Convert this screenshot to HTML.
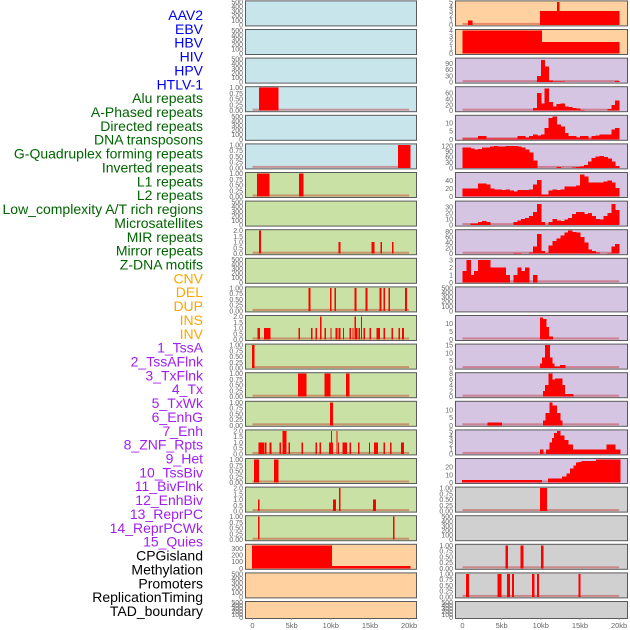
<!DOCTYPE html>
<html><head><meta charset="utf-8">
<style>
body{margin:0;background:#fff;}
svg{display:block;font-family:"Liberation Sans",sans-serif;}
</style></head>
<body>
<svg id="chart" width="630" height="630" viewBox="0 0 630 630" xmlns="http://www.w3.org/2000/svg"></svg>
<script>
// ---------- labels ----------
const trackLabels = ["AAV2","EBV","HBV","HIV","HPV","HTLV-1","Alu repeats","A-Phased repeats","Directed repeats","DNA transposons","G-Quadruplex forming repeats","Inverted repeats","L1 repeats","L2 repeats","Low_complexity A/T rich regions","Microsatellites","MIR repeats","Mirror repeats","Z-DNA motifs","CNV","DEL","DUP","INS","INV","1_TssA","2_TssAFlnk","3_TxFlnk","4_Tx","5_TxWk","6_EnhG","7_Enh","8_ZNF_Rpts","9_Het","10_TssBiv","11_BivFlnk","12_EnhBiv","13_ReprPC","14_ReprPCWk","15_Quies","CPGisland","Methylation","Promoters","ReplicationTiming","TAD_boundary"];
const labelColors = ["#0000ee","#0000ee","#0000ee","#0000ee","#0000ee","#0000ee","#006400","#006400","#006400","#006400","#006400","#006400","#006400","#006400","#006400","#006400","#006400","#006400","#006400","#ffa500","#ffa500","#ffa500","#ffa500","#ffa500","#a020f0","#a020f0","#a020f0","#a020f0","#a020f0","#a020f0","#a020f0","#a020f0","#a020f0","#a020f0","#a020f0","#a020f0","#a020f0","#a020f0","#a020f0","#000","#000","#000","#000","#000"];
const xTickKb = [0,5,10,15,20];
const xTickLabels = ["0","5kb","10kb","15kb","20kb"];
// ---------- tick label sets ----------
const tEmpty = ["0","100","200","300","400","500"];
const t01 = ["0.00","0.25","0.50","0.75","1.00"];
const t02 = ["0.0","0.5","1.0","1.5","2.0"];
// ---------- left column data: [startKb, endKb, value] ----------
const leftAlu = [[0.85,3.25,1]];
const leftGQuad = [[18.6,20.1,1]];
const leftL1 = [[0.57,2.1,1],[5.94,6.45,1]];
const leftMIR = [[0.85,1.0,2],[11.0,11.15,1],[15.2,15.5,1],[16.35,16.5,1],[17.8,17.95,1]];
const leftDEL = [[7.15,7.35,1],[9.9,10.05,1],[10.45,10.6,1],[13.0,13.2,1],[14.4,14.6,1],[16.2,16.4,1],[16.7,16.85,1],[17.35,17.5,1],[19.5,19.65,1]];
const leftINS = [[0.65,0.9,1],[1.5,1.7,1],[1.8,2.0,1],[2.05,2.25,1],[5.88,6.0,1],[7.5,7.62,1],[8.05,8.15,1],[8.65,8.75,2],[9.2,9.32,1],[9.95,10.05,1],[10.6,10.72,1],[10.85,10.95,1],[11.05,11.15,1],[11.55,11.65,1],[12.4,12.5,1],[12.75,12.85,1],[13.05,13.15,2],[13.25,13.35,1],[13.55,13.65,1],[13.85,13.95,2],[14.15,14.3,1],[14.95,15.05,1],[15.85,16.25,1],[16.75,16.85,1],[17.75,17.85,1],[18.65,18.75,1],[19.1,19.3,1]];
const leftTssA = [[-0.05,0.2,1]];
const leftTxFlnk = [[5.8,6.83,1],[9.17,9.9,1],[11.95,12.3,1]];
const leftTxWk = [[9.9,10.24,1]];
const leftEnh = [[0.74,1.4,1],[1.55,1.7,1],[2.2,2.35,1],[3.45,3.6,1],[3.8,4.3,2],[4.6,4.75,1],[6.25,6.4,1],[8.05,8.15,1],[8.55,8.7,1],[9.8,10.0,1],[10.0,10.12,2],[10.1,10.2,1],[10.7,10.82,2],[10.9,11.0,1],[11.5,12.0,1],[12.4,12.5,1],[13.45,13.6,1],[14.85,14.95,1],[15.5,15.95,1],[16.75,16.88,1],[17.55,17.7,1],[18.95,19.3,1]];
const leftHet = [[0.2,0.74,1],[2.75,3.26,1]];
const leftBivFlnk = [[0.7,0.85,1],[10.3,10.6,1],[11.05,11.2,2],[15.4,15.7,1]];
const leftReprPC = [[0.7,0.85,1],[17.95,18.1,1]];
const leftCPG = [[-0.06,10.1,350],[10.1,20.1,35]];
// ---------- right column data ----------
const rightAAV2 = [[0.7,1.2,1],[9.9,20,3],[12.1,12.3,5]];
const rightHBV = [[0,10.1,4],[10.1,20,2]];
const rightHPVbins = [0,0,0,0,0,0,0,0,0,0,0,0,0,0,0,0,0,0,0,30,105,75,8,3,3,3,0,0,0,0,0,0,0,0,0,0,0,0,0,5];
const rightAluBins = [0,0,0,0,0,0,0,0,0,0,0,0,0,0,0,0,0,0,10,60,25,75,30,15,22,25,15,12,10,8,3,0,0,0,0,0,0,5,20,35];
const rightDirectedBins = [0.5,0.5,0.5,0.5,2,2,0.5,0.5,0.5,0.5,0.5,0.5,0.5,0.5,2,2,1,2,3,2.5,3,7,13,14,9,8,4,2,2,1,2,2,0.5,2,2.5,3,3,3,6,7];
const rightGQuadBins = [110,112,105,100,102,110,112,115,118,115,115,118,120,118,115,110,100,85,40,0,0,0,0,0,5,0,0,0,3,5,8,15,35,55,62,65,60,50,35,10];
const rightL1Bins = [20,20,20,20,33,33,30,20,18,18,16,18,15,13,16,16,17,18,30,42,5,5,15,18,17,18,25,25,25,28,55,50,35,35,35,35,38,40,35,22];
const rightLowCBins = [0.5,0.5,3,3,5,7,5,0.5,0.5,0.5,0.5,0.5,0.5,5,8,10,12,15,22,35,5,0.5,5,10,8,7,9,12,18,22,22,18,20,15,10,9,15,20,35,25];
const rightMIRBins = [0.5,0.5,0.5,0.5,0.5,0.5,0.5,0.5,0.5,0.5,0.5,0.5,0.5,2,2,0,0,5,25,70,10,3,30,45,55,65,75,82,78,75,60,40,15,10,5,1,1,3,25,35];
const rightZDNABins = [1.5,3,1,1.5,3,3,3,2,2,2,2,1,0,1,2,1.5,2,0,1,0,0,0,0,0,0,0,0,0,0,0,0,0,0,0,0,0,0,0,0,0];
const rightINS = [[9.9,10.24,14],[10.24,10.66,13],[10.66,11.0,8],[11.0,11.5,2]];
const rightTssA = [[9.9,10.16,3],[10.16,10.54,7],[10.54,11.1,15],[11.1,11.4,7],[11.4,11.7,3],[11.7,12.45,1],[12.45,13.1,2]];
const rightTxFlnk = [[10.3,10.54,2],[10.54,10.97,4],[10.97,11.4,8],[11.4,11.8,6],[11.8,12.7,6.4],[12.7,13.0,4],[13.0,14.1,1]];
const rightTxWk = [[3.2,5.0,2],[10.3,10.6,3],[10.6,11.1,8],[11.1,11.4,15],[11.4,12.0,13],[12.0,12.45,8],[12.45,12.7,3]];
const rightEnh = [[9.9,10.3,1],[10.66,11.1,1],[11.1,11.4,2.5],[11.4,11.7,3.5],[11.7,12.1,4.5],[12.1,12.45,5],[12.45,12.97,4],[12.97,13.5,3],[13.5,14.07,2],[14.07,18.4,1],[18.4,19.5,2],[19.5,20.1,1]];
const rightHet = [[-0.04,10.1,3],[10.9,12.7,5],[12.7,13.3,8],[13.3,13.7,12],[13.7,14.16,18],[14.16,14.5,22],[14.5,14.8,26],[14.8,15.2,27],[15.2,17.05,28],[17.05,20.1,30]];
const rightBivFlnk = [[9.9,10.75,1]];
const rightQuies = [[5.47,5.76,1],[7.4,7.7,1],[10.0,10.3,1]];
const rightMethyl = [[0.45,0.74,1],[4.5,4.9,1],[5.7,6.0,1],[6.3,6.5,1],[8.9,9.1,1],[9.5,9.7,1],[14.8,15.0,1]];

const BLUE="#c9e5ec", GREEN="#c9e1a5", PEACH="#ffd1a1", LAV="#d5c5e2", GRAY="#d0d0d0";
function binsToSegs(b){return b.map((v,i)=>[0.5*i,0.5*i+0.5,v]);}
const E = {ticks:tEmpty, ymax:500, segs:null};
const rows = [
 {bl:BLUE, br:PEACH, L:E, R:{ticks:["0","1","2","3","4","5"],ymax:5,segs:rightAAV2}},
 {bl:BLUE, br:PEACH, L:E, R:{ticks:["0","1","2","3","4"],ymax:4,segs:rightHBV}},
 {bl:BLUE, br:LAV, L:E, R:{ticks:["0","30","60","90"],ymax:110,segs:binsToSegs(rightHPVbins)}},
 {bl:BLUE, br:LAV, L:{ticks:t01,ymax:1,segs:leftAlu}, R:{ticks:["0","20","40","60"],ymax:78,segs:binsToSegs(rightAluBins)}},
 {bl:BLUE, br:LAV, L:E, R:{ticks:["0","5","10"],ymax:14.2,segs:binsToSegs(rightDirectedBins)}},
 {bl:BLUE, br:LAV, L:{ticks:t01,ymax:1,segs:leftGQuad}, R:{ticks:["0","30","60","90","120"],ymax:125,segs:binsToSegs(rightGQuadBins)}},
 {bl:GREEN, br:LAV, L:{ticks:t01,ymax:1,segs:leftL1}, R:{ticks:["0","20","40"],ymax:58,segs:binsToSegs(rightL1Bins)}},
 {bl:GREEN, br:LAV, L:E, R:{ticks:["0","10","20","30"],ymax:38,segs:binsToSegs(rightLowCBins)}},
 {bl:GREEN, br:LAV, L:{ticks:t02,ymax:2,segs:leftMIR}, R:{ticks:["0","20","40","60","80"],ymax:82,segs:binsToSegs(rightMIRBins)}},
 {bl:GREEN, br:LAV, L:E, R:{ticks:["0","1","2","3"],ymax:3.1,segs:binsToSegs(rightZDNABins)}},
 {bl:GREEN, br:LAV, L:{ticks:t01,ymax:1,segs:leftDEL}, R:E},
 {bl:GREEN, br:LAV, L:{ticks:t02,ymax:2,segs:leftINS}, R:{ticks:["0","5","10"],ymax:14.5,segs:rightINS}},
 {bl:GREEN, br:LAV, L:{ticks:t01,ymax:1,segs:leftTssA}, R:{ticks:["0","5","10","15"],ymax:15,segs:rightTssA}},
 {bl:GREEN, br:LAV, L:{ticks:t01,ymax:1,segs:leftTxFlnk}, R:{ticks:["0","2","4","6","8"],ymax:8,segs:rightTxFlnk}},
 {bl:GREEN, br:LAV, L:{ticks:t01,ymax:1,segs:leftTxWk}, R:{ticks:["0","5","10"],ymax:15.1,segs:rightTxWk}},
 {bl:GREEN, br:LAV, L:{ticks:t02,ymax:2,segs:leftEnh}, R:{ticks:["0","1","2","3","4","5"],ymax:5,segs:rightEnh}},
 {bl:GREEN, br:LAV, L:{ticks:t01,ymax:1,segs:leftHet}, R:{ticks:["0","10","20"],ymax:30,segs:rightHet}},
 {bl:GREEN, br:GRAY, L:{ticks:t02,ymax:2,segs:leftBivFlnk}, R:{ticks:t01,ymax:1,segs:rightBivFlnk}},
 {bl:GREEN, br:GRAY, L:{ticks:t01,ymax:1,segs:leftReprPC}, R:E},
 {bl:PEACH, br:GRAY, L:{ticks:["0","100","200","300"],ymax:350,segs:leftCPG}, R:{ticks:t01,ymax:1,segs:rightQuies}},
 {bl:PEACH, br:GRAY, L:E, R:{ticks:t01,ymax:1,segs:rightMethyl}},
 {bl:PEACH, br:GRAY, L:E, R:E}
];

const NS="http://www.w3.org/2000/svg";
const svg=document.getElementById('chart');
function mk(tag,attrs,parent){const e=document.createElementNS(NS,tag);for(const k in attrs)e.setAttribute(k,attrs[k]);(parent||svg).appendChild(e);return e;}
const cols=[{x0:245,x1:416,kb0:252.5},{x0:455,x1:627,kb0:462.5}];
const kbScale=7.83;
function xScale(c,kb){return cols[c].kb0+kb*kbScale;}

// labels
trackLabels.forEach((t,i)=>{
  const el=mk('text',{x:203,y:15+13.86*i+5,'text-anchor':'end','font-size':'14',fill:labelColors[i]});
  
  
  el.textContent=t;
});

rows.forEach((r,i)=>{
  const top=0.4+28.6*i;
  const h=(i===rows.length-1)?17:25;
  [[r.L,r.bl,0],[r.R,r.br,1]].forEach(([p,bg,c])=>{
    const g=mk('g',{});
    
    
    const c0=cols[c];
    const bgRect=mk('rect',{x:c0.x0+0.5,y:top+0.5,width:c0.x1-c0.x0,height:h,fill:bg,stroke:'#5a5a5a','stroke-width':1},g);
    
    
    const yb=top+h-0.5, yt=top+1.5;
    const yS=v=>yb-(v/p.ymax)*(yb-yt);
    if(p.segs){
      const base=mk('rect',{x:xScale(c,0),y:yb-2,width:20*kbScale,height:2,fill:'rgba(190,0,0,0.35)'},g);
      
      
      p.segs.forEach(s=>{
        if(s[2]<=0)return;
        const x1=xScale(c,s[0]), x2=xScale(c,s[1]);
        const y=yS(Math.min(s[2],p.ymax));
        const b=mk('rect',{x:x1,y:y,width:Math.max(1.2,x2-x1+0.5),height:yb-y,fill:'#ff0000','shape-rendering':'crispEdges'},g);
        
        
      });
    }
    // y ticks
    const tx=(c===0?243:453);
    p.ticks.forEach(tl=>{
      const v=parseFloat(tl);
      const t=mk('text',{x:tx,y:yS(v)+2.5,'text-anchor':'end','font-size':'7',fill:'#666'},g);
      
      
      t.textContent=tl;
    });
  });
});

// x axis
[0,1].forEach(c=>{
  xTickKb.forEach((kb,j)=>{
    const x=xScale(c,kb);
    mk('line',{x1:x,x2:x,y1:618,y2:620,stroke:'#888','stroke-width':0.8});
    const t=mk('text',{x:x,y:628,'text-anchor':'middle','font-size':'7.5',fill:'#666'});
    
    
    t.textContent=xTickLabels[j];
  });
});
</script>
</body></html>
